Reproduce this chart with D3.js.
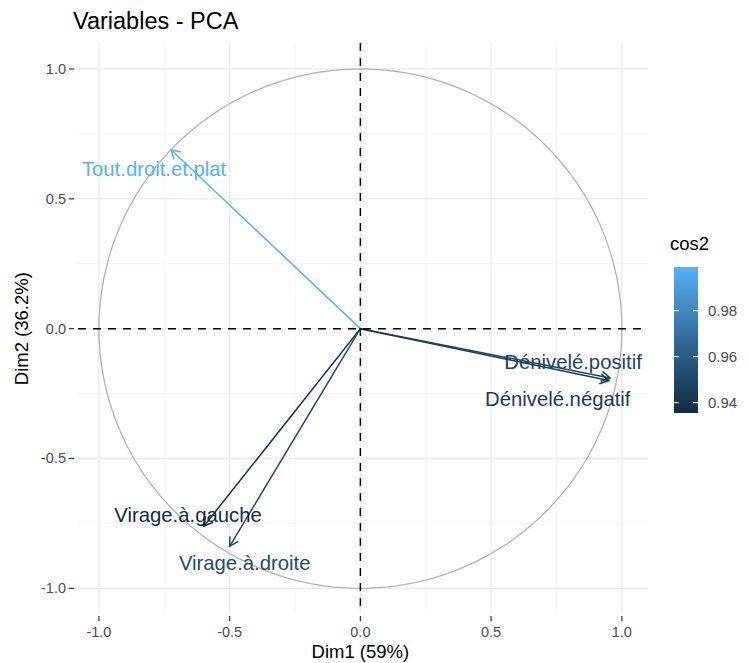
<!DOCTYPE html>
<html>
<head>
<meta charset="utf-8">
<script src="https://cdn.jsdelivr.net/npm/d3@7.9.0/dist/d3.min.js"></script>
<style>
  body { margin: 0; background: #fff; }
  svg { display: block; }
  text { font-family: "Liberation Sans", Arial, sans-serif; }
</style>
</head>
<body>
<svg id="chart" width="749" height="663"></svg>
<script>
// PCA variable coordinates
const variables = ["Dénivelé.positif", "Dénivelé.négatif", "Tout.droit.et.plat", "Virage.à.gauche", "Virage.à.droite"];
const dim1 = [0.955, 0.950, -0.724, -0.598, -0.500];
const dim2 = [-0.190, -0.200, 0.689, -0.760, -0.838];
const cos2 = [0.948, 0.943, 0.999, 0.9355, 0.952];
const majorTicks = [-1, -0.5, 0, 0.5, 1];
const minorTicks = [-0.75, -0.25, 0.25, 0.75];
const legendTicks = [0.94, 0.96, 0.98];

// label nudges (pixels) so the texts sit like the repelled ones
const labelShift = {
    "Dénivelé.positif": [-37, -16],
    "Dénivelé.négatif": [-51, 18],
    "Tout.droit.et.plat": [-17, 19],
    "Virage.à.gauche": [-16, -11],
    "Virage.à.droite": [15, 17]
};

const svg = d3.select("#chart");
const panel = { left: 78, right: 648, top: 43, bottom: 613 };

const x = d3.scaleLinear().domain([-1.08, 1.10]).range([panel.left, panel.right]);
const y = d3.scaleLinear().domain([-1.095, 1.10]).range([panel.bottom, panel.top]);

const cmin = d3.min(cos2), cmax = d3.max(cos2);
const color = d3.scaleLinear().domain([cmin, cmax]).range(["#132B43", "#56B1F7"]).interpolate(d3.interpolateLab);

// grid
const grid = svg.append("g");
grid.selectAll(".minx").data(minorTicks).join("line")
    .attr("x1", d => x(d)).attr("x2", d => x(d))
    .attr("y1", panel.top).attr("y2", panel.bottom)
    .attr("stroke", "#F0F0F0").attr("stroke-width", 0.7);
grid.selectAll(".miny").data(minorTicks).join("line")
    .attr("y1", d => y(d)).attr("y2", d => y(d))
    .attr("x1", panel.left).attr("x2", panel.right)
    .attr("stroke", "#F0F0F0").attr("stroke-width", 0.7);
grid.selectAll(".majx").data(majorTicks).join("line")
    .attr("x1", d => x(d)).attr("x2", d => x(d))
    .attr("y1", panel.top).attr("y2", panel.bottom)
    .attr("stroke", "#EBEBEB").attr("stroke-width", 1.3);
grid.selectAll(".majy").data(majorTicks).join("line")
    .attr("y1", d => y(d)).attr("y2", d => y(d))
    .attr("x1", panel.left).attr("x2", panel.right)
    .attr("stroke", "#EBEBEB").attr("stroke-width", 1.3);

// axes ticks + labels
const fmt = d => d.toFixed(1);
svg.append("g").selectAll("line").data(majorTicks).join("line")
    .attr("x1", d => x(d)).attr("x2", d => x(d))
    .attr("y1", panel.bottom + 3).attr("y2", panel.bottom + 8)
    .attr("stroke", "#333").attr("stroke-width", 1.2);
svg.append("g").selectAll("text").data(majorTicks).join("text")
    .attr("x", d => x(d)).attr("y", panel.bottom + 24)
    .attr("text-anchor", "middle").attr("font-size", 14.5).attr("fill", "#4D4D4D")
    .text(fmt);
svg.append("g").selectAll("line").data(majorTicks).join("line")
    .attr("y1", d => y(d)).attr("y2", d => y(d))
    .attr("x1", panel.left - 9).attr("x2", panel.left - 4)
    .attr("stroke", "#333").attr("stroke-width", 1.2);
svg.append("g").selectAll("text").data(majorTicks).join("text")
    .attr("x", panel.left - 12).attr("y", d => y(d) + 5)
    .attr("text-anchor", "end").attr("font-size", 14.5).attr("fill", "#4D4D4D")
    .text(fmt);

// correlation circle
const circle = d3.range(0, 361, 2).map(a => [Math.cos(a * Math.PI / 180), Math.sin(a * Math.PI / 180)]);
svg.append("path")
    .attr("d", d3.line().x(d => x(d[0])).y(d => y(d[1]))(circle))
    .attr("fill", "none").attr("stroke", "#B3B3B3").attr("stroke-width", 1.3);

// arrows
const data = variables.map((v, i) => ({ name: v, d1: dim1[i], d2: dim2[i], cos2: cos2[i] }));
const arrows = svg.append("g");
data.forEach(d => {
    const x0 = x(0), y0 = y(0), x1 = x(d.d1), y1 = y(d.d2);
    const ang = Math.atan2(y1 - y0, x1 - x0);
    const len = 10, spread = Math.PI / 6;
    const head = [
        [x1 - len * Math.cos(ang - spread), y1 - len * Math.sin(ang - spread)],
        [x1, y1],
        [x1 - len * Math.cos(ang + spread), y1 - len * Math.sin(ang + spread)]
    ];
    arrows.append("line")
        .attr("x1", x0).attr("y1", y0).attr("x2", x1).attr("y2", y1)
        .attr("stroke", color(d.cos2)).attr("stroke-width", 1.5);
    arrows.append("path")
        .attr("d", d3.line()(head))
        .attr("fill", "none").attr("stroke", color(d.cos2)).attr("stroke-width", 1.5);
});

// dashed reference lines
svg.append("line")
    .attr("x1", panel.left).attr("x2", panel.right).attr("y1", y(0)).attr("y2", y(0))
    .attr("stroke", "#000").attr("stroke-width", 1.5).attr("stroke-dasharray", "8,7");
svg.append("line")
    .attr("y1", panel.top).attr("y2", panel.bottom).attr("x1", x(0)).attr("x2", x(0))
    .attr("stroke", "#000").attr("stroke-width", 1.5).attr("stroke-dasharray", "8,7");

// variable labels
svg.append("g").selectAll("text").data(data).join("text")
    .attr("x", d => x(d.d1) + labelShift[d.name][0])
    .attr("y", d => y(d.d2) + labelShift[d.name][1])
    .attr("dy", "0.35em")
    .attr("text-anchor", "middle").attr("font-size", 20.3)
    .attr("fill", d => color(d.cos2))
    .text(d => d.name);

// titles
svg.append("text").attr("x", 73).attr("y", 29).attr("font-size", 23.5).attr("fill", "#000")
    .text("Variables - PCA");
svg.append("text").attr("x", x(0)).attr("y", 658).attr("text-anchor", "middle")
    .attr("font-size", 18.5).attr("fill", "#000").text("Dim1 (59%)");
svg.append("text").attr("transform", `translate(28,${y(0)}) rotate(-90)`)
    .attr("text-anchor", "middle").attr("font-size", 18.5).attr("fill", "#000")
    .text("Dim2 (36.2%)");

// colour bar legend
const bar = { x: 674, w: 24, top: 267, bottom: 413 };
const ly = d3.scaleLinear().domain([cmin, cmax]).range([bar.bottom, bar.top]);
const defs = svg.append("defs");
const grad = defs.append("linearGradient").attr("id", "cbar")
    .attr("x1", 0).attr("y1", 1).attr("x2", 0).attr("y2", 0);
d3.range(0, 1.001, 0.1).forEach(t => {
    grad.append("stop").attr("offset", t).attr("stop-color", color(cmin + t * (cmax - cmin)));
});
svg.append("rect").attr("x", bar.x).attr("y", bar.top).attr("width", bar.w)
    .attr("height", bar.bottom - bar.top).attr("fill", "url(#cbar)");
const lg = svg.append("g");
legendTicks.forEach(t => {
    lg.append("line").attr("x1", bar.x).attr("x2", bar.x + 5).attr("y1", ly(t)).attr("y2", ly(t))
        .attr("stroke", "#fff").attr("stroke-width", 1);
    lg.append("line").attr("x1", bar.x + bar.w - 5).attr("x2", bar.x + bar.w).attr("y1", ly(t)).attr("y2", ly(t))
        .attr("stroke", "#fff").attr("stroke-width", 1);
    lg.append("text").attr("x", bar.x + bar.w + 10).attr("y", ly(t) + 5)
        .attr("font-size", 15).attr("fill", "#4D4D4D").text(t.toFixed(2));
});
svg.append("text").attr("x", 670).attr("y", 250).attr("font-size", 18.5).attr("fill", "#000").text("cos2");
</script>
</body>
</html>
